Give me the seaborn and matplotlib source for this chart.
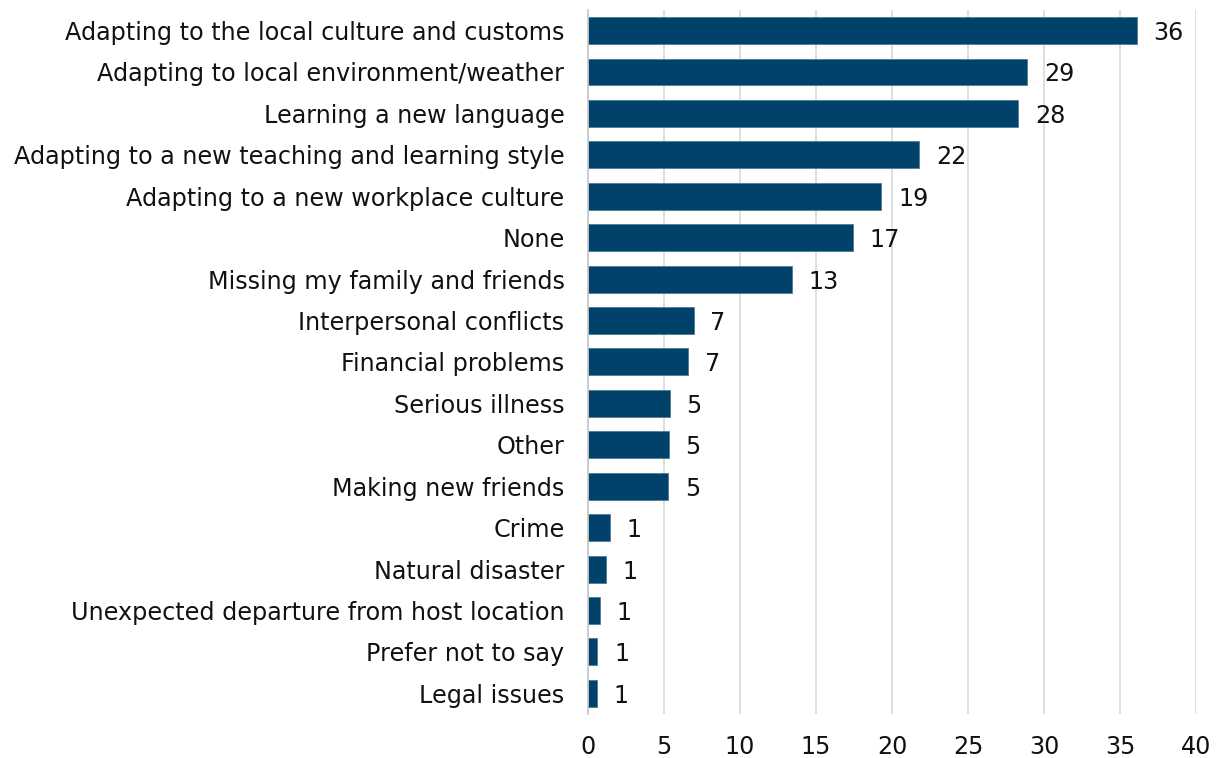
import pandas as pd
import seaborn as sns
import matplotlib.pyplot as plt

# Challenges data (percent of respondents)
challenges = [
    "Adapting to the local culture and customs",
    "Adapting to local environment/weather",
    "Learning a new language",
    "Adapting to a new teaching and learning style",
    "Adapting to a new workplace culture",
    "None",
    "Missing my family and friends",
    "Interpersonal conflicts",
    "Financial problems",
    "Serious illness",
    "Other",
    "Making new friends",
    "Crime",
    "Natural disaster",
    "Unexpected departure from host location",
    "Prefer not to say",
    "Legal issues",
]
percent = [36.1, 28.9, 28.3, 21.8, 19.3, 17.4, 13.4, 6.95, 6.6, 5.38, 5.32, 5.26,
           1.43, 1.16, 0.79, 0.62, 0.56]
x_ticks = [0, 5, 10, 15, 20, 25, 30, 35, 40]

df = pd.DataFrame({"challenge": challenges, "percent": percent})

sns.set_style("white")
plt.rcParams["font.family"] = ["DejaVu Sans"]

fig = plt.figure(figsize=(12.26, 7.58), dpi=100)
ax = fig.add_axes([0.4796, 0.058, 0.496, 0.929])

sns.barplot(data=df, x="percent", y="challenge", color="#01426A",
            width=0.65, saturation=1, edgecolor="#4d7a9a", linewidth=0.6, ax=ax)

# value labels
for i, v in enumerate(percent):
    ax.text(v + 1.1, i, f"{round(v):.0f}", va="center_baseline", ha="left",
            fontsize=17.2, color="#111111")

ax.set_xlim(0, 40)
ax.set_ylim(16.5, -0.5)
ax.set_xticks(x_ticks)
ax.set_xlabel("")
ax.set_ylabel("")
ax.xaxis.grid(True, color="#d9d9d9", linewidth=1.2)
ax.set_axisbelow(True)
for side in ["top", "right", "bottom"]:
    ax.spines[side].set_visible(False)
ax.spines["left"].set_color("#c8c8c8")
ax.spines["left"].set_linewidth(1.2)
ax.tick_params(axis="y", length=0, pad=17, labelsize=17.2, labelcolor="#111111")
ax.tick_params(axis="x", length=0, pad=15, labelsize=17.2, labelcolor="#111111")

plt.savefig("out.png", dpi=100)
plt.close()
